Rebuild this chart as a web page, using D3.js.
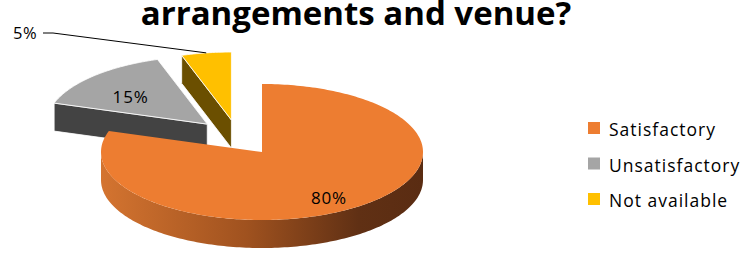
<!DOCTYPE html>
<html>
<head>
  <meta charset="utf-8">
  <script src="https://cdn.jsdelivr.net/npm/d3@7"></script>
  <style>
    body { margin: 0; background: #fff; }
    svg { display: block; font-family: "Open Sans", sans-serif; }
  </style>
</head>
<body>
<script>
  // chart data
  var categories = ["Satisfactory", "Unsatisfactory", "Not available"];
  var values = [80, 15, 5];
  var labels = ["80%", "15%", "5%"];
  var colors = ["#ED7D31", "#A5A5A5", "#FFC000"];
  var sideColors = ["url(#orangeSide)", "#434343", "#6b4f00"];
  var titleLine = "arrangements and venue?";

  var W = 747, H = 258;
  var cx = 262, cy = 152, rx = 161, ry = 68, depth = 28;
  // explosion offsets (fraction of rx, ry)
  var explode = [[0, 0], [-0.34, -0.41], [-0.19, -0.47]];

  var svg = d3.select("body").append("svg")
    .attr("width", W).attr("height", H);

  var grad = svg.append("defs").append("linearGradient")
    .attr("id", "orangeSide")
    .attr("gradientUnits", "userSpaceOnUse")
    .attr("x1", cx - rx).attr("x2", cx + rx).attr("y1", 0).attr("y2", 0);
  grad.append("stop").attr("offset", "0%").attr("stop-color", "#d47430");
  grad.append("stop").attr("offset", "45%").attr("stop-color", "#a0521f");
  grad.append("stop").attr("offset", "80%").attr("stop-color", "#603014");
  grad.append("stop").attr("offset", "100%").attr("stop-color", "#5a2c12");

  svg.append("text")
    .attr("x", 356).attr("y", 25)
    .attr("text-anchor", "middle")
    .style("font-size", "33px").style("font-weight", "bold")
    .text(titleLine);

  var pie = d3.pie().sort(null).startAngle(0).endAngle(2 * Math.PI);
  var arcs = pie(values);

  function pt(o, a, r, dz) {
    return [o[0] + rx * r * Math.sin(a), o[1] - ry * r * Math.cos(a) + (dz || 0)];
  }
  function arcPts(o, a0, a1, dz) {
    var n = Math.max(2, Math.ceil((a1 - a0) / 0.02)), p = [];
    for (var i = 0; i <= n; i++) p.push(pt(o, a0 + (a1 - a0) * i / n, 1, dz));
    return p;
  }
  var line = d3.line();

  // draw back slices first, orange last
  var order = [1, 2, 0];
  order.forEach(function(i) {
    var d = arcs[i];
    var o = [cx + explode[i][0] * rx, cy + explode[i][1] * ry];
    var g = svg.append("g");
    // start radial face
    if (Math.sin(d.startAngle) < -1e-6) {
      var p = pt(o, d.startAngle, 1);
      g.append("path")
        .attr("d", line([o, p, [p[0], p[1] + depth], [o[0], o[1] + depth]]) + "Z")
        .attr("fill", sideColors[i]).attr("stroke", "#fff").attr("stroke-width", 0.8);
    }
    if (Math.sin(d.endAngle) > 1e-6) {
      var q = pt(o, d.endAngle, 1);
      g.append("path")
        .attr("d", line([o, q, [q[0], q[1] + depth], [o[0], o[1] + depth]]) + "Z")
        .attr("fill", sideColors[i]);
    }
    // outer front side
    var s0 = Math.max(d.startAngle, Math.PI / 2), s1 = Math.min(d.endAngle, 3 * Math.PI / 2);
    if (s1 > s0) {
      var top = arcPts(o, s0, s1, 0), bot = arcPts(o, s0, s1, depth).reverse();
      g.append("path").attr("d", line(top.concat(bot)) + "Z")
        .attr("fill", sideColors[i]);
    }
    // top surface
    g.append("path")
      .attr("d", line([o].concat(arcPts(o, d.startAngle, d.endAngle, 0))) + "Z")
      .attr("fill", colors[i])
      .attr("stroke", i === 0 ? "none" : "#fff").attr("stroke-width", 0.8);
  });

  // inside labels
  var labelR = [0.74, 0.7];
  var labelNudge = [[-3, 5], [3, 6]];
  [0, 1].forEach(function(i) {
    var d = arcs[i];
    var o = [cx + explode[i][0] * rx, cy + explode[i][1] * ry];
    var p = pt(o, (d.startAngle + d.endAngle) / 2, labelR[i]);
    svg.append("text")
      .attr("x", p[0] + labelNudge[i][0]).attr("y", p[1] + labelNudge[i][1])
      .attr("text-anchor", "middle").attr("dominant-baseline", "central")
      .style("font-size", "17px").style("letter-spacing", "0.8px").attr("fill", "#000")
      .text(labels[i]);
  });

  // outside label for the small slice
  var dy = arcs[2];
  var oy = [cx + explode[2][0] * rx, cy + explode[2][1] * ry];
  var tip = pt(oy, (dy.startAngle + dy.endAngle) / 2, 1);
  svg.append("path")
    .attr("d", line([[43, 33], [53, 33], tip]))
    .attr("fill", "none").attr("stroke", "#000").attr("stroke-width", 1);
  svg.append("text")
    .attr("x", 13).attr("y", 32)
    .attr("dominant-baseline", "central")
    .style("font-size", "16.5px").style("letter-spacing", "0.5px")
    .text(labels[2]);

  // legend
  var lg = svg.append("g").attr("transform", "translate(588,128)");
  categories.forEach(function(c, i) {
    var row = lg.append("g").attr("transform", "translate(0," + (i * 35.5) + ")");
    row.append("rect").attr("x", 0).attr("y", -6).attr("width", 12).attr("height", 12)
      .attr("fill", colors[i]);
    row.append("text").attr("x", 21).attr("y", 1)
      .attr("dominant-baseline", "central")
      .style("font-size", "17.5px").style("letter-spacing", "1px")
      .text(c);
  });
</script>
</body>
</html>
